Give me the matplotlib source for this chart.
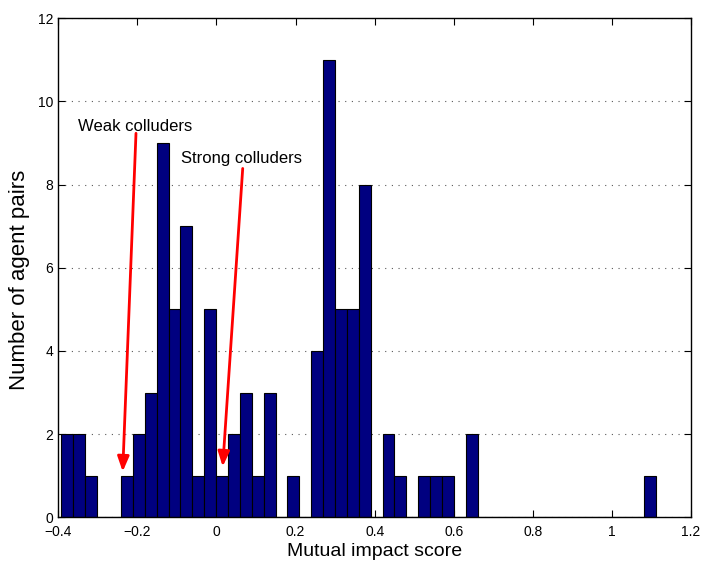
import numpy as np
import matplotlib
matplotlib.use("Agg")
import matplotlib.pyplot as plt

plt.rcParams['font.family'] = ['Liberation Sans', 'DejaVu Sans']

# histogram of mutual impact scores, 50 bins from min to max of the data
bin_start = -0.392
bin_end = 1.112
counts = [2, 2, 1, 0, 0, 1, 2, 3, 9, 5,
          7, 1, 5, 1, 2, 3, 1, 3, 0, 1,
          0, 4, 11, 5, 5, 8, 0, 2, 1, 0,
          1, 1, 1, 0, 2, 0, 0, 0, 0, 0,
          0, 0, 0, 0, 0, 0, 0, 0, 0, 1]

x_ticks = [-0.4, -0.2, 0, 0.2, 0.4, 0.6, 0.8, 1.0, 1.2]
x_tick_labels = ['\u22120.4', '\u22120.2', '0', '0.2', '0.4', '0.6', '0.8', '1', '1.2']
y_ticks = [0, 2, 4, 6, 8, 10, 12]

# annotations: (text, text position, arrow start, arrow tip)
notes = [
    ("Weak colluders", (-0.350, 9.41), (-0.2035, 9.235), (-0.2371, 1.10)),
    ("Strong colluders", (-0.0897, 8.64), (0.0664, 8.39), (0.0158, 1.22)),
]

edges = np.linspace(bin_start, bin_end, len(counts) + 1)
width = edges[1] - edges[0]

fig = plt.figure(figsize=(7.04, 5.62), dpi=100)
ax = fig.add_axes([0.0828, 0.0795, 0.8987, 0.8879])

ax.bar(edges[:-1], counts, width=width, align='edge',
       color='#000080', edgecolor='black', linewidth=0.8, zorder=2)

ax.set_xlim(-0.4, 1.2)
ax.set_ylim(0, 12)
ax.set_xticks(x_ticks)
ax.set_xticklabels(x_tick_labels)
ax.set_yticks(y_ticks)
ax.tick_params(direction='in', top=True, right=True, length=5, width=0.8,
               labelsize=10, colors='black')
ax.tick_params(axis='x', pad=5.7)
ax.yaxis.grid(True, linestyle=(0, (1, 5)), color='0.35', linewidth=0.8, zorder=1)
for s in ax.spines.values():
    s.set_linewidth(1.0)

ax.set_xlabel('Mutual impact score', fontsize=14, labelpad=3)
ax.set_ylabel('Number of agent pairs', fontsize=16)
ax.yaxis.set_label_coords(-0.045, 0.4756)

for txt, tpos, start, tip in notes:
    ax.text(tpos[0], tpos[1], txt, fontsize=12, ha='left', va='center', zorder=4)
    ax.annotate('', xy=tip, xytext=start,
                arrowprops=dict(arrowstyle='-|>,head_length=0.9,head_width=0.35',
                                color='red', lw=2, shrinkA=0, shrinkB=0),
                zorder=5)

fig.savefig('out.png', dpi=100)
